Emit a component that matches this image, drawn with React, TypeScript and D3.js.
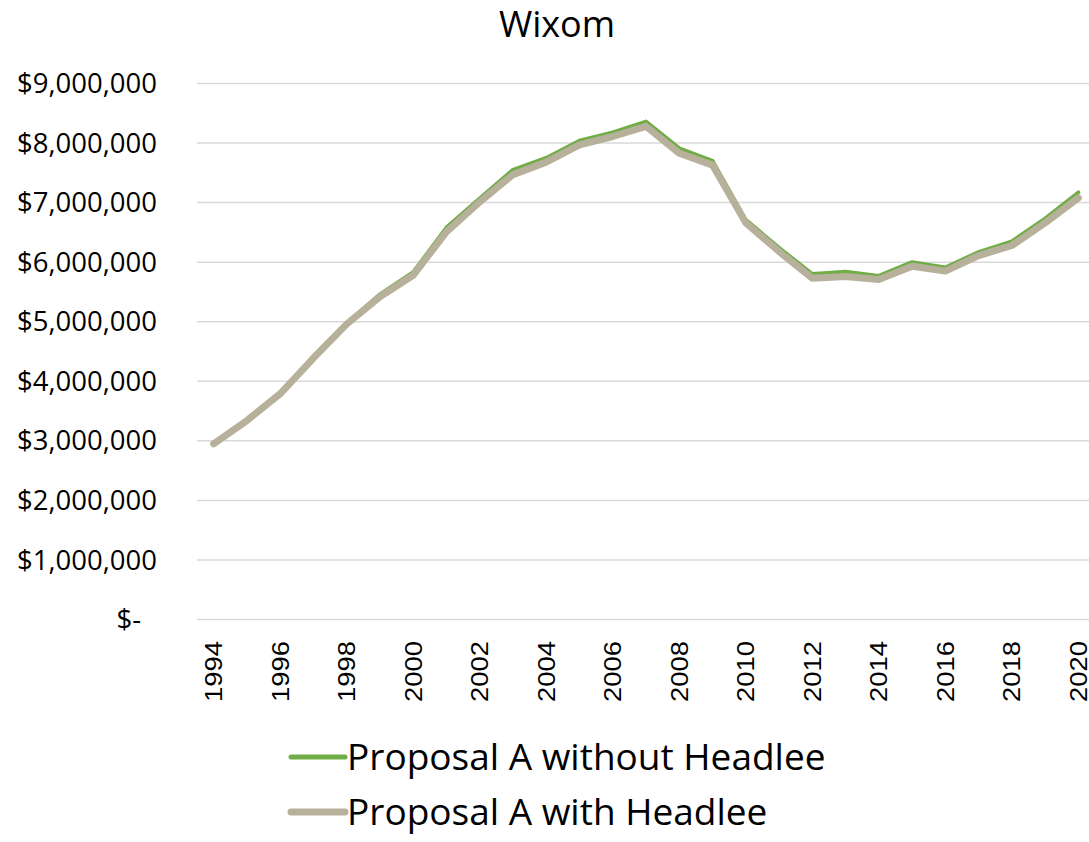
import React from "react";
import * as d3 from "d3";

const years = d3.range(1994, 2021).map(String);
const withoutHeadlee = [2.95, 3.35, 3.8, 4.4, 4.97, 5.46, 5.83, 6.58, 7.07, 7.55, 7.75, 8.04, 8.18, 8.36, 7.91, 7.7, 6.71, 6.24, 5.8, 5.84, 5.77, 6.0, 5.91, 6.17, 6.35, 6.73, 7.17].map(v => v * 1e6);
const withHeadlee = [2.95, 3.34, 3.79, 4.39, 4.96, 5.42, 5.78, 6.51, 7.01, 7.47, 7.68, 7.97, 8.11, 8.28, 7.83, 7.63, 6.66, 6.18, 5.73, 5.76, 5.71, 5.93, 5.85, 6.11, 6.28, 6.66, 7.08].map(v => v * 1e6);
const yTicks = d3.range(0, 9000001, 1000000);
const xLabelYears = years.filter((_, i) => i % 2 === 0);
const seriesNames = ["Proposal A without Headlee", "Proposal A with Headlee"];
const seriesColors = ["#70AD47", "#B7B09B"];
const seriesWidths = [4, 7];

const W = 1089, H = 842;
const left = 197, right = 1095, top = 83.5, bottom = 619.5;

export default function App() {
  const x = d3.scalePoint<string>().domain(years).range([left, right]).padding(0.5);
  const y = d3.scaleLinear().domain([0, 9000000]).range([bottom, top]);
  const line = d3.line<number>().x((_, i) => x(years[i])!).y(d => y(d));
  const fmt = (v: number) => (v === 0 ? "$-" : "$" + d3.format(",")(v));
  const series = [withoutHeadlee, withHeadlee];
  return (
    <svg width={W} height={H} style={{ position: "absolute", left: 0, top: 0, display: "block", background: "#fff" }}>
      <text x={557} y={37} textAnchor="middle" fontFamily="Open Sans" fontSize={36} fill="#000">Wixom</text>
      {yTicks.map(t => (
        <g key={t}>
          <line x1={left} x2={W} y1={y(t)} y2={y(t)} stroke="#D9D9D9" strokeWidth={1.5} />
          <text x={t === 0 ? 141 : 157} y={y(t)} dy="0.35em" textAnchor="end" fontFamily="Open Sans" fontSize={27.5} fill="#000">{fmt(t)}</text>
        </g>
      ))}
      {xLabelYears.map(yr => (
        <text key={yr} transform={`translate(${x(yr)},641) rotate(-90)`} textAnchor="end" dy="0.36em" fontFamily="Liberation Sans" fontSize={24} textLength={61} lengthAdjust="spacingAndGlyphs" fill="#000">{yr}</text>
      ))}
      {series.map((s, i) => (
        <path key={i} d={line(s)!} fill="none" stroke={seriesColors[i]} strokeWidth={seriesWidths[i]} strokeLinejoin="round" strokeLinecap="round" />
      ))}
      {seriesNames.map((n, i) => (
        <g key={n} transform={`translate(0,${757 + i * 55})`}>
          <line x1={291} x2={345} y1={0} y2={0} stroke={seriesColors[i]} strokeWidth={seriesWidths[i] === 4 ? 5 : 7} strokeLinecap="round" />
          <text x={347} y={0} dy="0.35em" fontFamily="Open Sans" fontSize={37} fill="#000">{n}</text>
        </g>
      ))}
    </svg>
  );
}
